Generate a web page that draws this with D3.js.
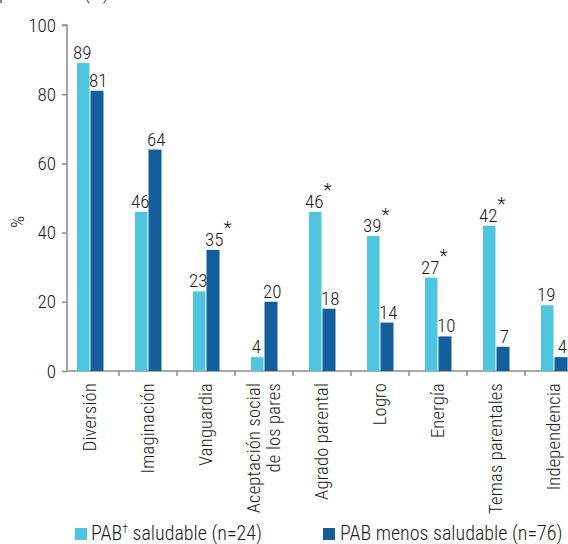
<!DOCTYPE html>
<html>
<head>
<meta charset="utf-8">
<script src="https://cdn.jsdelivr.net/npm/d3@7"></script>
<style>
body { margin: 0; background: #fff; }
svg text { font-family: "Roboto Condensed", "Liberation Sans", sans-serif; font-weight: 350; fill: #1a1a1a; }
</style>
</head>
<body>
<svg id="chart" width="568" height="544"></svg>
<script>
// chart data
var categories = [["Diversión"], ["Imaginación"], ["Vanguardia"], ["Aceptación social", "de los pares"], ["Agrado parental"], ["Logro"], ["Energía"], ["Temas parentales"], ["Independencia"]];
var saludable = [89, 46, 23, 4, 46, 39, 27, 42, 19];
var menosSaludable = [81, 64, 35, 20, 18, 14, 10, 7, 4];
var significant = [false, false, true, false, true, true, true, true, false];
var yTicks = [0, 20, 40, 60, 80, 100];
var seriesNames = ["PAB", "PAB menos saludable (n=76)"];
var colors = ["#4fc6df", "#135f9b"];

var svg = d3.select("#chart");
var axisColor = "#8c8c8c";
var fs = 19;

var x = d3.scaleBand().domain(d3.range(categories.length)).range([61, 583]);
var y = d3.scaleLinear().domain([0, 100]).range([371, 25]);

// cut-off title on top (only the descenders show)
svg.append("text").attr("x", -1).attr("y", -1).attr("font-size", "20px").text("percibidos (%)");

// y axis
var yAxis = svg.append("g").attr("transform", "translate(67,0)")
	.call(d3.axisLeft(y).tickValues(yTicks).tickSize(5).tickPadding(6));
yAxis.select(".domain").attr("stroke", axisColor).attr("stroke-width", 1.5).attr("d", "M-5," + y(100) + "H0V" + y(0));
yAxis.selectAll(".tick line").attr("stroke", axisColor).attr("stroke-width", 1.5);
yAxis.selectAll(".tick text").attr("font-size", fs + "px").attr("fill", "#1a1a1a")
	.style("font-family", "'Roboto Condensed', 'Liberation Sans', sans-serif").style("font-weight", 350);

svg.append("text").attr("transform", "translate(24,222) rotate(-90)")
	.attr("text-anchor", "middle").attr("font-size", fs + "px").text("%");

// x axis line with ticks at band boundaries
svg.append("line").attr("x1", 67).attr("x2", 568).attr("y1", y(0)).attr("y2", y(0))
	.attr("stroke", axisColor).attr("stroke-width", 1.5);
svg.selectAll(".xtick").data(d3.range(1, categories.length)).enter().append("line")
	.attr("x1", function(d){ return x(d); }).attr("x2", function(d){ return x(d); })
	.attr("y1", y(0)).attr("y2", y(0) + 5)
	.attr("stroke", axisColor).attr("stroke-width", 1.5);

// bars
var barW = 12.5;
var groups = svg.selectAll(".grp").data(categories).enter().append("g")
	.attr("transform", function(d, i){ return "translate(" + (x(i) + x.bandwidth() / 2) + ",0)"; });

groups.append("rect").attr("x", -barW - 0.5).attr("width", barW)
	.attr("y", function(d, i){ return y(saludable[i]); })
	.attr("height", function(d, i){ return y(0) - y(saludable[i]); })
	.attr("fill", colors[0]);
groups.append("rect").attr("x", 0.5).attr("width", barW + 0.5)
	.attr("y", function(d, i){ return y(menosSaludable[i]); })
	.attr("height", function(d, i){ return y(0) - y(menosSaludable[i]); })
	.attr("fill", colors[1]);

// value labels
groups.append("text").attr("class", "v1").attr("text-anchor", "middle").attr("font-size", fs + "px")
	.attr("x", -barW / 2 - 1.5)
	.attr("y", function(d, i){ return y(saludable[i]) - 4; })
	.text(function(d, i){ return saludable[i]; });
groups.append("text").attr("class", "v2").attr("text-anchor", "middle").attr("font-size", fs + "px")
	.attr("x", barW / 2 + 2)
	.attr("y", function(d, i){ return y(menosSaludable[i]) - 4; })
	.text(function(d, i){ return menosSaludable[i]; });

// asterisks on the higher bar of significant pairs
groups.each(function(d, i){
	if(!significant[i]) return;
	var hi = saludable[i] >= menosSaludable[i];
	var lbl = d3.select(this).select(hi ? ".v1" : ".v2");
	var bb = lbl.node().getBBox();
	var base = (hi ? y(saludable[i]) : y(menosSaludable[i])) - 4;
	d3.select(this).append("text").attr("font-size", fs + "px")
		.attr("x", bb.x + bb.width).attr("y", base - 0.711 * fs + 2).text("*");
});

// category labels (rotated)
groups.each(function(d, i){
	var n = d.length;
	var g = d3.select(this);
	d.forEach(function(line, k){
		g.append("text").attr("font-size", "18.5px").attr("letter-spacing", "0.2px").attr("text-anchor", "end")
			.attr("transform", "translate(" + (6 + (k - (n - 1) / 2) * 20) + "," + (y(0) + 12) + ") rotate(-90)")
			.text(line);
	});
});

// legend
var legend = svg.append("g").attr("transform", "translate(75,528)");
legend.append("rect").attr("width", 12).attr("height", 12).attr("fill", colors[0]);
var t1 = legend.append("text").attr("x", 16).attr("y", 12).attr("font-size", "20px");
t1.append("tspan").text(seriesNames[0]);
t1.append("tspan").attr("font-size", "12px").attr("dy", -7).text("†");
t1.append("tspan").attr("dy", 7).text(" saludable (n=24)");
legend.append("rect").attr("x", 248).attr("width", 12).attr("height", 12).attr("fill", colors[1]);
legend.append("text").attr("x", 265).attr("y", 12).attr("font-size", "20px").text(seriesNames[1]);
</script>
</body>
</html>
